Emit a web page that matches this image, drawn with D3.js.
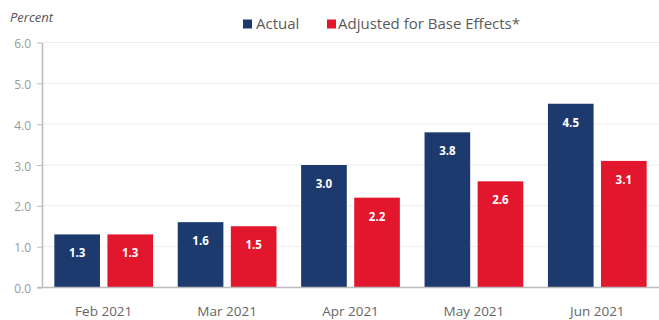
<!DOCTYPE html>
<html>
<head>
<meta charset="utf-8">
<script src="https://cdn.jsdelivr.net/npm/d3@7"></script>
<style>
  html, body { margin: 0; padding: 0; background: #fff; }
  svg { display: block; font-family: "Open Sans", "Noto Sans", sans-serif; }
</style>
</head>
<body>
<svg id="chart" width="659" height="320"></svg>
<script>
// Monthly inflation, actual vs. adjusted for base effects
const categories = ["Feb 2021", "Mar 2021", "Apr 2021", "May 2021", "Jun 2021"];
const seriesNames = ["Actual", "Adjusted for Base Effects*"];
const actual = [1.3, 1.6, 3.0, 3.8, 4.5];
const adjusted = [1.3, 1.5, 2.2, 2.6, 3.1];
const yTicks = [0, 1, 2, 3, 4, 5, 6];

const colors = ["#1c3a6e", "#e2172d"];
const svg = d3.select("#chart");

const margin = { left: 42, right: 0, top: 42.5, bottom: 32.5 };
const W = 659, H = 320;

const x0 = d3.scaleBand().domain(categories)
  .range([margin.left, W - margin.right])
  .paddingInner(0.2).paddingOuter(0.1);
const x1 = d3.scaleBand().domain(seriesNames)
  .range([0, x0.bandwidth()]).paddingInner(0.14);
const y = d3.scaleLinear().domain([0, 6]).range([H - margin.bottom, margin.top]);

// Gridlines
svg.append("g").selectAll("line").data(yTicks.filter(d => d > 0)).join("line")
  .attr("x1", margin.left).attr("x2", W)
  .attr("y1", d => y(d)).attr("y2", d => y(d))
  .attr("stroke", "#eeeeee").attr("stroke-width", 1);

// Y axis
const yAxis = svg.append("g")
  .attr("transform", `translate(${margin.left},0)`)
  .call(d3.axisLeft(y).tickValues(yTicks).tickFormat(d3.format(".1f")).tickSize(5).tickSizeOuter(0));
yAxis.select(".domain").attr("stroke", "#bbbbbb").attr("stroke-width", 1.5);
yAxis.selectAll(".tick line").attr("stroke", "#bbbbbb");
yAxis.selectAll(".tick text").attr("fill", "#9a9a9a").attr("font-size", 12)
  .attr("x", -11).attr("dy", "0.42em").attr("font-family", "'Open Sans', sans-serif");

// Bars
const rows = categories.map((c, i) => ({ cat: c, vals: [actual[i], adjusted[i]] }));
const groups = svg.append("g").selectAll("g").data(rows).join("g")
  .attr("transform", d => `translate(${x0(d.cat)},0)`);

groups.selectAll("rect").data(d => d.vals.map((v, j) => ({ name: seriesNames[j], v, j })))
  .join("rect")
  .attr("x", d => x1(d.name))
  .attr("width", x1.bandwidth())
  .attr("y", d => y(d.v))
  .attr("height", d => y(0) - y(d.v))
  .attr("fill", d => colors[d.j]);

groups.selectAll("text.val").data(d => d.vals.map((v, j) => ({ name: seriesNames[j], v, j })))
  .join("text").attr("class", "val")
  .attr("x", d => x1(d.name) + x1.bandwidth() / 2)
  .attr("y", d => y(d.v) + 23)
  .attr("text-anchor", "middle")
  .attr("fill", "#ffffff").attr("font-weight", "bold").attr("font-size", 11.5)
  .text(d => d3.format(".1f")(d.v));

// Baseline
svg.append("line")
  .attr("x1", margin.left - 5).attr("x2", W)
  .attr("y1", y(0)).attr("y2", y(0))
  .attr("stroke", "#bbbbbb").attr("stroke-width", 1.5);

// X labels
svg.append("g").selectAll("text").data(categories).join("text")
  .attr("x", d => x0(d) + x0.bandwidth() / 2)
  .attr("y", 316)
  .attr("text-anchor", "middle")
  .attr("fill", "#666666").attr("font-size", 13.5)
  .text(d => d);

// Axis title
svg.append("text").attr("x", 10).attr("y", 22)
  .attr("font-style", "italic").attr("font-size", 13).attr("fill", "#555")
  .text("Percent");

// Legend
const legendSwatchX = [243, 327];
const legend = svg.append("g").selectAll("g").data(seriesNames).join("g")
  .attr("transform", (d, i) => `translate(${legendSwatchX[i]},0)`);
legend.append("rect").attr("width", 9).attr("height", 9).attr("y", 19.5)
  .attr("fill", (d, i) => colors[i]);
legend.append("text").attr("x", (d, i) => i === 0 ? 13 : 11).attr("y", 29)
  .attr("font-size", 15).attr("fill", "#5a5a5a")
  .text(d => d);
</script>
</body>
</html>
